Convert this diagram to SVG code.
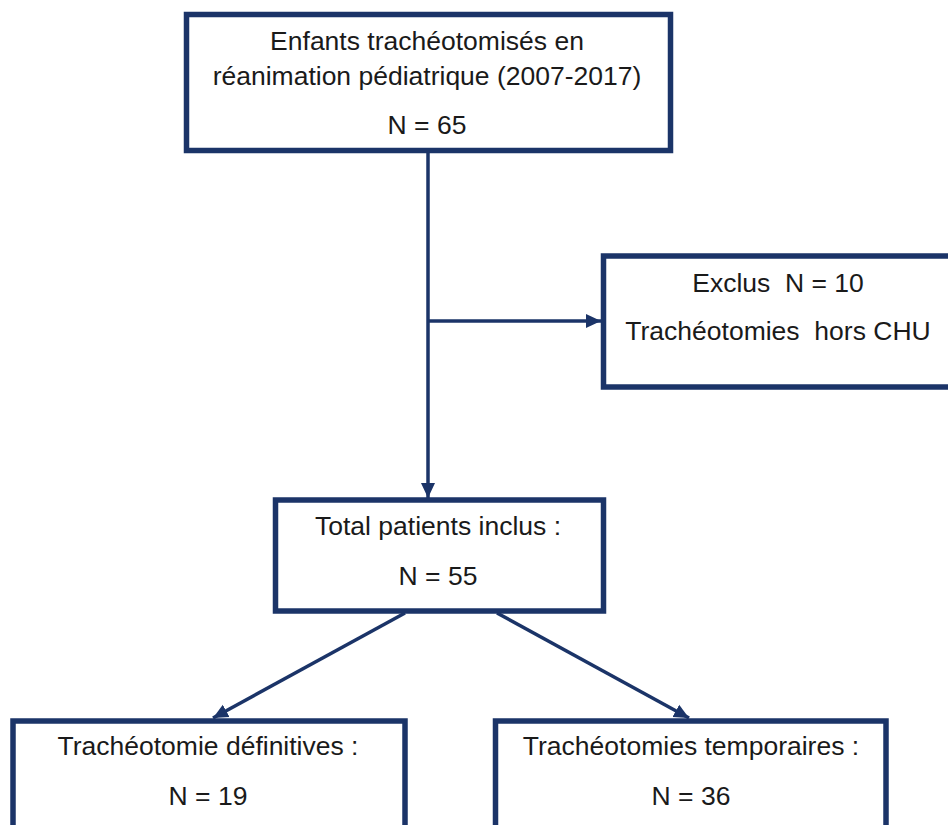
<svg xmlns="http://www.w3.org/2000/svg" width="948" height="825" viewBox="0 0 948 825">
<style>
.box{fill:#ffffff;stroke:#1b3468;stroke-width:5.5}
.lbl{font-family:"Liberation Sans",Arial,sans-serif;font-size:26.5px;fill:#1a1a1a;text-anchor:middle}
.con{fill:none;stroke:#1b3468;stroke-width:3.5}
</style>
<defs>
<marker id="arr" markerUnits="userSpaceOnUse" markerWidth="18" markerHeight="18" viewBox="0 0 18 18" refX="15" refY="9" orient="auto">
<path d="M0,2 L15,9 L0,16 Z" fill="#1b3468"/>
</marker>
</defs>
<rect width="948" height="825" fill="#ffffff"/>
<g id="connectors">
<line class="con" x1="428" y1="153" x2="428" y2="498" marker-end="url(#arr)"/>
<line class="con" x1="428" y1="321" x2="601" y2="321" marker-end="url(#arr)"/>
<line class="con" x1="405" y1="613" x2="213" y2="718" marker-end="url(#arr)"/>
<line class="con" x1="497" y1="613" x2="689" y2="718" marker-end="url(#arr)"/>
</g>
<g id="n_enfants">
<rect class="box" x="186.5" y="14.5" width="484" height="136"/>
<text class="lbl" x="427" y="50">Enfants trachéotomisés en</text>
<text class="lbl" x="427" y="85">réanimation pédiatrique (2007-2017)</text>
<text class="lbl" x="427" y="134">N = 65</text>
</g>
<g id="n_exclus">
<rect class="box" x="603.5" y="256" width="360" height="131"/>
<text class="lbl" x="778" y="292" xml:space="preserve">Exclus  N = 10</text>
<text class="lbl" x="778" y="340" xml:space="preserve">Trachéotomies  hors CHU</text>
</g>
<g id="n_total">
<rect class="box" x="275.5" y="500" width="328" height="111"/>
<text class="lbl" x="438" y="535">Total patients inclus :</text>
<text class="lbl" x="438" y="585">N = 55</text>
</g>
<g id="n_definitives">
<rect class="box" x="13" y="721" width="392" height="130"/>
<text class="lbl" x="208" y="755">Trachéotomie définitives :</text>
<text class="lbl" x="208" y="805">N = 19</text>
</g>
<g id="n_temporaires">
<rect class="box" x="495.5" y="721" width="390.5" height="130"/>
<text class="lbl" x="691" y="755">Trachéotomies temporaires :</text>
<text class="lbl" x="691" y="805">N = 36</text>
</g>
</svg>
